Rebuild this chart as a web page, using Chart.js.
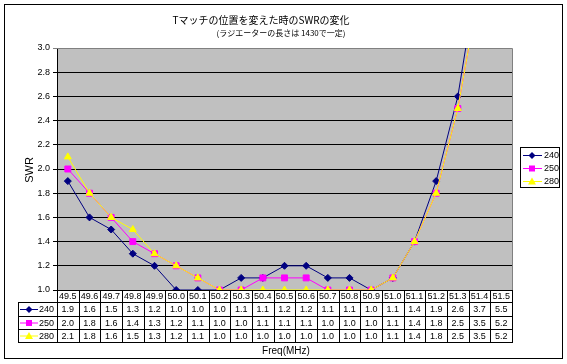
<!DOCTYPE html>
<html>
<head>
<meta charset="utf-8">
<script src="https://cdn.jsdelivr.net/npm/chart.js@4/dist/chart.umd.min.js"></script>
<style>
html, body { margin: 0; padding: 0; background: #fff; }
canvas { display: block; }
</style>
</head>
<body>
<canvas id="chart" width="567" height="364"></canvas>
<script>
const freqs = ["49.5", "49.6", "49.7", "49.8", "49.9", "50.0", "50.1", "50.2", "50.3", "50.4", "50.5",
  "50.6", "50.7", "50.8", "50.9", "51.0", "51.1", "51.2", "51.3", "51.4", "51.5"];
const swr240 = [1.9, 1.6, 1.5, 1.3, 1.2, 1.0, 1.0, 1.0, 1.1, 1.1, 1.2, 1.2, 1.1, 1.1, 1.0, 1.1, 1.4, 1.9, 2.6, 3.7, 5.5];
const swr250 = [2.0, 1.8, 1.6, 1.4, 1.3, 1.2, 1.1, 1.0, 1.0, 1.1, 1.1, 1.1, 1.0, 1.0, 1.0, 1.1, 1.4, 1.8, 2.5, 3.5, 5.2];
const swr280 = [2.1, 1.8, 1.6, 1.5, 1.3, 1.2, 1.1, 1.0, 1.0, 1.0, 1.0, 1.0, 1.0, 1.0, 1.0, 1.1, 1.4, 1.8, 2.5, 3.5, 5.2];
const seriesNames = ["240", "250", "280"];
const yMin = 1.0, yMax = 3.0, yStep = 0.2;
const titleText = "Tマッチの位置を変えた時のSWRの変化";
const subtitleText = "(ラジエーターの長さは 1430で一定)";
const xTitle = "Freq(MHz)";
const yTitle = "SWR";

const FONT = '"Liberation Sans", "Noto Sans CJK JP", sans-serif';
const JFONT = '"Noto Sans CJK JP", sans-serif';

function drawMarker(ctx, style, x, y, color) {
  ctx.save();
  ctx.fillStyle = color;
  ctx.beginPath();
  if (style === "rectRot") {
    ctx.moveTo(x, y - 3.5); ctx.lineTo(x + 3.5, y); ctx.lineTo(x, y + 3.5); ctx.lineTo(x - 3.5, y);
  } else if (style === "rect") {
    ctx.rect(x - 3, y - 3, 6, 6);
  } else {
    ctx.moveTo(x, y - 4); ctx.lineTo(x + 4, y + 3); ctx.lineTo(x - 4, y + 3);
  }
  ctx.closePath();
  ctx.fill();
  ctx.restore();
}

const extras = {
  id: "extras",
  beforeDraw(chart) {
    const { ctx, chartArea: a } = chart;
    ctx.save();
    ctx.fillStyle = "#fff";
    ctx.fillRect(0, 0, chart.width, chart.height);
    ctx.fillStyle = "#c0c0c0";
    ctx.fillRect(a.left, a.top, a.right - a.left, a.bottom - a.top);
    ctx.restore();
  },
  beforeDatasetsDraw(chart) {
    const { ctx, chartArea: a } = chart;
    ctx.save();
    ctx.strokeStyle = "#808080";
    ctx.lineWidth = 1;
    ctx.beginPath();
    ctx.moveTo(a.left, a.top + 0.5); ctx.lineTo(a.right + 0.5, a.top + 0.5);
    ctx.lineTo(a.right + 0.5, a.bottom);
    ctx.stroke();
    ctx.restore();
  },
  afterDraw(chart) {
    const { ctx, chartArea: a } = chart;
    const xs = chart.scales.x;
    const sets = chart.data.datasets;
    ctx.save();

    // outer frame
    ctx.strokeStyle = "#000";
    ctx.lineWidth = 1;
    ctx.strokeRect(4.5, 4.5, 558, 354);

    // titles
    ctx.fillStyle = "#000";
    ctx.textAlign = "center";
    ctx.textBaseline = "middle";
    ctx.font = "10px " + JFONT;
    ctx.fillText(titleText, 261, 20);
    ctx.font = "8px " + JFONT;
    ctx.fillText(subtitleText, 281, 33);

    // y title
    ctx.save();
    ctx.translate(30, 170);
    ctx.rotate(-Math.PI / 2);
    ctx.font = "11px " + FONT;
    ctx.fillText(yTitle, 0, 0);
    ctx.restore();

    // data table
    const cw = xs.getPixelForValue(1) - xs.getPixelForValue(0);
    const left = Math.round(xs.getPixelForValue(0) - cw / 2);
    const right = Math.round(xs.getPixelForValue(freqs.length - 1) + cw / 2);
    const rows = [Math.round(a.bottom), 302, 316, 329, 342];
    const labelLeft = 18;
    ctx.beginPath();
    rows.forEach((y, r) => {
      ctx.moveTo(r === 0 ? left : labelLeft, y + 0.5);
      ctx.lineTo(right + 1, y + 0.5);
    });
    for (let i = 0; i <= freqs.length; i++) {
      const x = Math.round(xs.getPixelForValue(i) - cw / 2);
      ctx.moveTo(x + 0.5, rows[0]); ctx.lineTo(x + 0.5, rows[4] + 1);
    }
    ctx.moveTo(labelLeft + 0.5, rows[1]); ctx.lineTo(labelLeft + 0.5, rows[4] + 1);
    ctx.stroke();

    ctx.font = "9px " + FONT;
    ctx.textAlign = "center";
    freqs.forEach((f, i) => {
      const x = xs.getPixelForValue(i);
      ctx.fillText(f, x, (rows[0] + rows[1]) / 2 + 1);
      sets.forEach((ds, s) => {
        ctx.fillText(ds.data[i].toFixed(1), x, (rows[s + 1] + rows[s + 2]) / 2 + 1);
      });
    });
    sets.forEach((ds, s) => {
      const y = (rows[s + 1] + rows[s + 2]) / 2 + 0.5;
      ctx.strokeStyle = ds.borderColor;
      ctx.beginPath(); ctx.moveTo(20, y); ctx.lineTo(38, y); ctx.stroke();
      drawMarker(ctx, ds.pointStyle, 29, y, ds.borderColor);
      ctx.fillStyle = "#000";
      ctx.textAlign = "left";
      ctx.fillText(ds.label, 39, y + 0.5);
    });

    // x title
    ctx.textAlign = "center";
    ctx.font = "10px " + FONT;
    ctx.fillText(xTitle, 286, 351);

    // legend
    ctx.strokeStyle = "#000";
    ctx.fillStyle = "#fff";
    ctx.fillRect(520, 147, 39, 40);
    ctx.strokeRect(520.5, 147.5, 39, 40);
    ctx.font = "9px " + FONT;
    sets.forEach((ds, s) => {
      const y = 155.5 + s * 13;
      ctx.strokeStyle = ds.borderColor;
      ctx.beginPath(); ctx.moveTo(523, y); ctx.lineTo(542, y); ctx.stroke();
      drawMarker(ctx, ds.pointStyle, 532, y, ds.borderColor);
      ctx.fillStyle = "#000";
      ctx.textAlign = "left";
      ctx.fillText(ds.label, 544, y + 0.5);
    });
    ctx.restore();
  }
};

new Chart(document.getElementById("chart"), {
  type: "line",
  data: {
    labels: freqs,
    datasets: [
      { label: seriesNames[0], data: swr240, borderColor: "#000080", backgroundColor: "#000080",
        pointStyle: "rectRot", pointRadius: 3.5, borderWidth: 1, order: 3 },
      { label: seriesNames[1], data: swr250, borderColor: "#ff00ff", backgroundColor: "#ff00ff",
        pointStyle: "rect", pointRadius: 4.2, borderWidth: 1, order: 2 },
      { label: seriesNames[2], data: swr280, borderColor: "#ffff00", backgroundColor: "#ffff00",
        pointStyle: "triangle", pointRadius: 4, borderWidth: 1, order: 1 }
    ]
  },
  options: {
    responsive: false,
    animation: false,
    devicePixelRatio: 1,
    layout: { padding: { left: 4, top: 48, right: 55, bottom: 74 } },
    plugins: { legend: { display: false }, title: { display: false }, tooltip: { enabled: false } },
    elements: { line: { tension: 0 }, point: { borderWidth: 0 } },
    scales: {
      x: { display: false, offset: true },
      y: {
        min: yMin, max: yMax,
        afterFit: s => { s.width = 53; },
        ticks: { stepSize: yStep, color: "#000", font: { size: 9, family: FONT }, padding: 3,
          callback: v => Number(v).toFixed(1) },
        grid: { color: c => (c.tick && Math.abs(c.tick.value - yMax) < 1e-6) ? "#808080" : "#000",
          tickLength: 4, lineWidth: 1 },
        border: { color: "#000" }
      }
    }
  },
  plugins: [extras]
});
</script>
</body>
</html>
